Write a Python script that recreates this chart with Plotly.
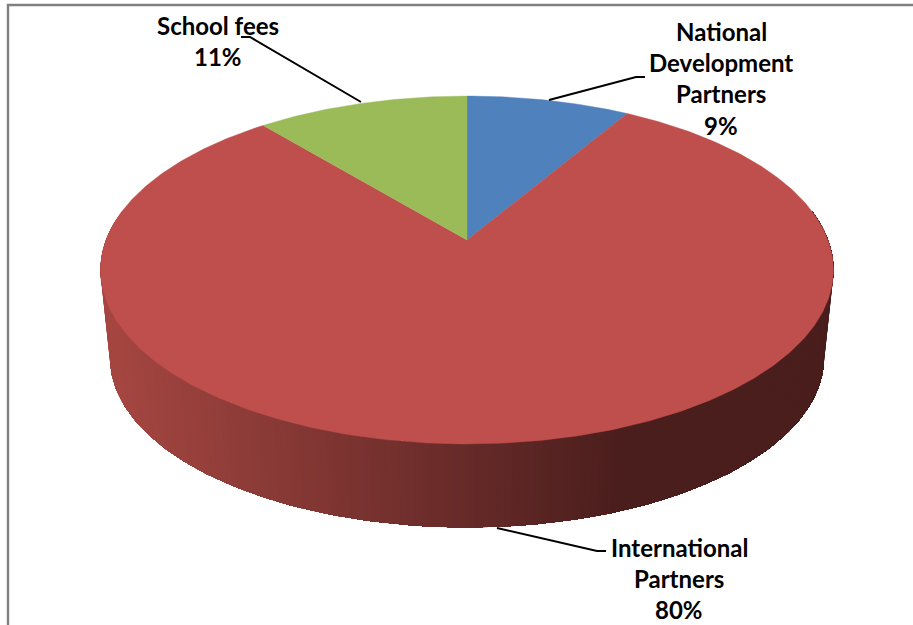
import numpy as np
import plotly.graph_objects as go

categories = ["National Development Partners", "International Partners", "School fees"]
shares = [8.51, 80.45, 11.04]
slice_colors = ["#4F81BD", "#BE4F4C", "#9BBB59"]
label_lines = [["National", "Development", "Partners"], ["International", "Partners"], ["School fees"]]
label_centers_x = [721, 679, 218]
label_tops_y = [31, 547, 25]
LINE_H = 31.4
leaders = [
    ([549, 636, 645], [100, 77, 77]),
    ([497, 597, 606], [528, 551, 551]),
    ([361, 250, 241], [102, 37, 37]),
]

# projection of the round pie on to the page (tilted, with perspective)
CX, CY, A, B, K = 467.0, 240.0, 361.0, 168.8, 0.1724
S, WALL_Y, TOP_MID = 0.974, 358.0, 270.0


def project(theta):
    u, v = np.sin(theta), np.cos(theta)
    d = 1 + K * v
    return CX + A * u / d, CY - B * v / d


def base(x, y):
    return CX + S * (x - CX), WALL_Y + S * (y - TOP_MID)


def wall_color(x):
    t = float(np.clip((x - 110) / (620 - 110), 0, 1))
    c0, c1 = np.array([165, 70, 65]), np.array([74, 30, 29])
    r, g, b = (c0 + (c1 - c0) * t).round().astype(int)
    return f"rgb({r},{g},{b})"


fig = go.Figure()

# side wall: painted left to right, every band reaching to the far end so no seams show
edges = np.radians(np.linspace(280, 80, 201))
for i in range(0, len(edges) - 1):
    th = edges[i:]
    x, y = project(th)
    bx, by = base(x, y)
    col = wall_color(float(x[0]))
    fig.add_trace(go.Scatter(
        x=np.concatenate([x, bx[::-1], x[:1]]), y=np.concatenate([y, by[::-1], y[:1]]),
        mode="lines", fill="toself", fillcolor=col,
        line=dict(color=col, width=0), hoverinfo="skip", showlegend=False))

# top face
cum = np.concatenate([[0], np.cumsum(shares)]) / sum(shares) * 2 * np.pi
for name, col, a0, a1 in zip(categories, slice_colors, cum[:-1], cum[1:]):
    th = np.linspace(a0, a1, max(8, int((a1 - a0) * 90)))
    px, py = project(th)
    fig.add_trace(go.Scatter(
        x=np.concatenate([[CX], px, [CX]]), y=np.concatenate([[CY], py, [CY]]),
        mode="lines", fill="toself", fillcolor=col, line=dict(color=col, width=0.4),
        name=name, hoverinfo="name", showlegend=False))

# leader lines
for lx, ly in leaders:
    fig.add_trace(go.Scatter(x=lx, y=ly, mode="lines", line=dict(color="#000000", width=2),
                             hoverinfo="skip", showlegend=False))

# labels
for lines, share, cx, top in zip(label_lines, shares, label_centers_x, label_tops_y):
    rows = lines + [f"{round(share / sum(shares) * 100)}%"]
    for i, row in enumerate(rows):
        fig.add_annotation(x=cx, y=top + i * LINE_H, text=row, showarrow=False,
                           xanchor="center", yanchor="middle",
                           font=dict(family="Lato", size=24, color="#000000", weight=700))

fig.update_layout(
    width=913, height=625, margin=dict(l=0, r=0, t=0, b=0),
    paper_bgcolor="#ffffff", plot_bgcolor="#ffffff", showlegend=False,
    xaxis=dict(range=[0, 913], visible=False, fixedrange=True),
    yaxis=dict(range=[625, 0], visible=False, fixedrange=True),
    shapes=[
        dict(type="line", x0=8, x1=8, y0=4, y1=625, line=dict(color="#808080", width=2.4)),
        dict(type="line", x0=7, x1=913, y0=5, y1=5, line=dict(color="#808080", width=2.4)),
    ],
)
fig.write_html("out.html", config={"displayModeBar": False},
               post_script="document.body.style.margin='0';document.body.style.overflow='hidden';")
